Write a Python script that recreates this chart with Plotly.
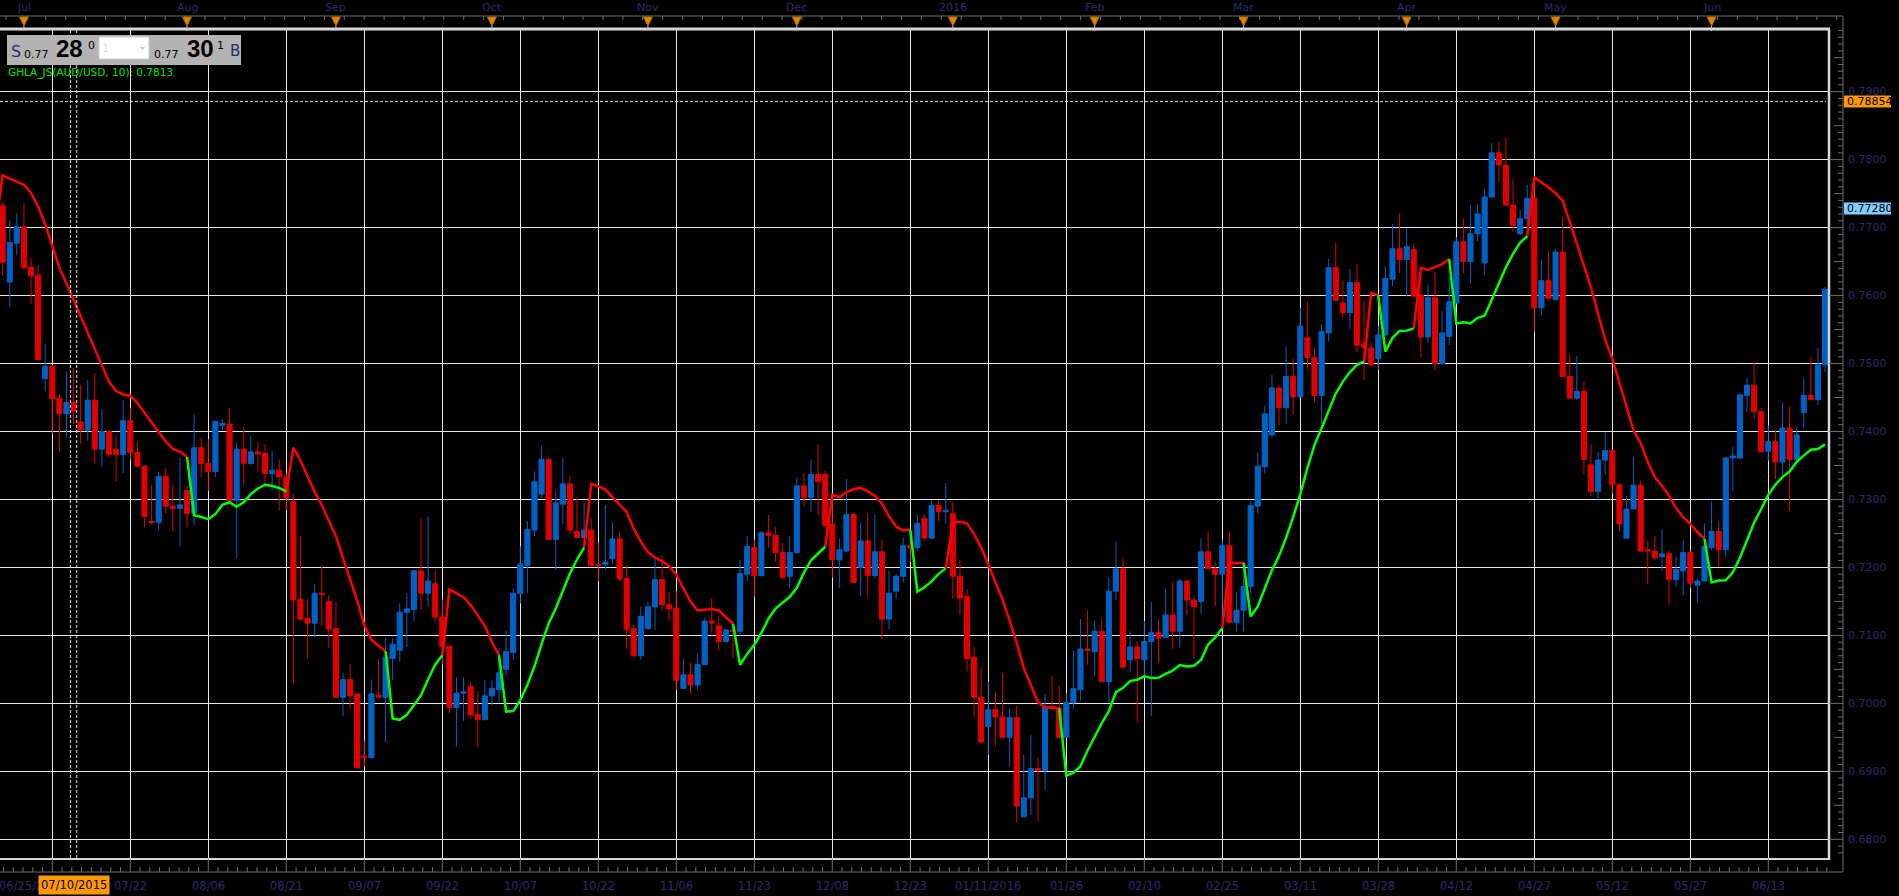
import plotly.graph_objects as go
import numpy as np

# ---------------- data (AUD/USD daily, index 0 = first candle 06/26/2015) ----------------
opens = [0.7732,0.7620,0.7677,0.7701,0.7642,0.7630,0.7478,0.7496,0.7449,0.7426,
         0.7443,0.7414,0.7402,0.7446,0.7374,0.7400,0.7374,0.7366,0.7416,0.7369,
         0.7349,0.7268,0.7266,0.7334,0.7290,0.7287,0.7313,0.7280,0.7376,0.7353,
         0.7341,0.7409,0.7411,0.7298,0.7374,0.7353,0.7370,0.7368,0.7338,0.7343,
         0.7333,0.7297,0.7153,0.7125,0.7118,0.7162,0.7150,0.7110,0.7009,0.7035,
         0.7014,0.6922,0.6920,0.7012,0.7009,0.7066,0.7078,0.7134,0.7138,0.7195,
         0.7162,0.7176,0.7127,0.7084,0.6994,0.7015,0.7025,0.6984,0.6976,0.7011,
         0.7020,0.7050,0.7075,0.7162,0.7203,0.7255,0.7308,0.7359,0.7241,0.7293,
         0.7323,0.7253,0.7244,0.7255,0.7204,0.7204,0.7213,0.7242,0.7184,0.7110,
         0.7070,0.7110,0.7142,0.7182,0.7145,0.7140,0.7022,0.7042,0.7027,0.7057,
         0.7121,0.7114,0.7091,0.7108,0.7106,0.7190,0.7229,0.7188,0.7251,0.7247,
         0.7222,0.7187,0.7222,0.7320,0.7303,0.7337,0.7337,0.7264,0.7211,0.7224,
         0.7278,0.7200,0.7239,0.7188,0.7223,0.7124,0.7165,0.7187,0.7232,0.7229,
         0.7272,0.7243,0.7291,0.7282,0.7279,0.7187,0.7157,0.7068,0.7009,0.6966,
         0.6991,0.6980,0.6950,0.6979,0.6833,0.6861,0.6904,0.6901,0.6995,0.6993,
         0.6950,0.7001,0.7020,0.7080,0.7076,0.7106,0.7032,0.7165,0.7198,0.7064,
         0.7083,0.7064,0.7091,0.7104,0.7097,0.7130,0.7106,0.7180,0.7152,0.7150,
         0.7223,0.7198,0.7190,0.7232,0.7119,0.7137,0.7172,0.7290,0.7348,0.7395,
         0.7464,0.7435,0.7481,0.7451,0.7538,0.7509,0.7453,0.7545,0.7641,0.7589,
         0.7575,0.7619,0.7529,0.7523,0.7507,0.7542,0.7624,0.7669,0.7653,0.7668,
         0.7601,0.7539,0.7597,0.7500,0.7540,0.7589,0.7679,0.7650,0.7691,0.7648,
         0.7745,0.7810,0.7792,0.7733,0.7691,0.7713,0.7743,0.7582,0.7622,0.7594,
         0.7664,0.7481,0.7449,0.7459,0.7351,0.7312,0.7358,0.7372,0.7322,0.7243,
         0.7286,0.7321,0.7226,0.7224,0.7216,0.7220,0.7182,0.7195,0.7222,0.7174,
         0.7180,0.7229,0.7253,0.7226,0.7361,0.7361,0.7453,0.7468,0.7429,0.7371,
         0.7385,0.7355,0.7405,0.7359,0.7428,0.7453,0.7447,0.7498]
highs = [0.7738,0.7711,0.7722,0.7736,0.7655,0.7645,0.7529,0.7498,0.7455,0.7488,
         0.7494,0.7469,0.7476,0.7486,0.7433,0.7402,0.7395,0.7446,0.7435,0.7385,
         0.7350,0.7321,0.7341,0.7347,0.7321,0.7362,0.7320,0.7425,0.7391,0.7389,
         0.7416,0.7418,0.7435,0.7384,0.7407,0.7393,0.7385,0.7382,0.7371,0.7359,
         0.7339,0.7308,0.7246,0.7153,0.7176,0.7201,0.7159,0.7149,0.7045,0.7058,
         0.7015,0.6945,0.7035,0.7066,0.7096,0.7096,0.7147,0.7162,0.7196,0.7272,
         0.7275,0.7195,0.7153,0.7085,0.7038,0.7038,0.7032,0.7018,0.7034,0.7034,
         0.7081,0.7107,0.7170,0.7231,0.7268,0.7341,0.7379,0.7361,0.7313,0.7361,
         0.7334,0.7303,0.7295,0.7272,0.7236,0.7292,0.7266,0.7253,0.7203,0.7116,
         0.7143,0.7150,0.7213,0.7218,0.7163,0.7165,0.7066,0.7060,0.7073,0.7126,
         0.7155,0.7128,0.7109,0.7122,0.7211,0.7246,0.7241,0.7253,0.7277,0.7259,
         0.7236,0.7246,0.7332,0.7339,0.7359,0.7381,0.7342,0.7300,0.7242,0.7330,
         0.7280,0.7266,0.7279,0.7277,0.7241,0.7195,0.7191,0.7244,0.7254,0.7277,
         0.7277,0.7299,0.7299,0.7324,0.7297,0.7211,0.7168,0.7083,0.7053,0.7032,
         0.7016,0.7045,0.6992,0.6997,0.6924,0.6953,0.6920,0.7014,0.7040,0.7026,
         0.7015,0.7078,0.7124,0.7137,0.7122,0.7124,0.7185,0.7238,0.7213,0.7106,
         0.7091,0.7121,0.7149,0.7124,0.7168,0.7178,0.7183,0.7181,0.7157,0.7243,
         0.7254,0.7209,0.7241,0.7253,0.7163,0.7185,0.7297,0.7369,0.7438,0.7483,
         0.7468,0.7525,0.7507,0.7582,0.7591,0.7524,0.7558,0.7654,0.7678,0.7622,
         0.7639,0.7647,0.7592,0.7532,0.7555,0.7643,0.7705,0.7721,0.7699,0.7677,
         0.7636,0.7616,0.7635,0.7577,0.7628,0.7686,0.7713,0.7733,0.7734,0.7757,
         0.7824,0.7826,0.7832,0.7772,0.7726,0.7763,0.7775,0.7653,0.7666,0.7668,
         0.7716,0.7514,0.7511,0.7474,0.7381,0.7370,0.7399,0.7373,0.7323,0.7305,
         0.7363,0.7328,0.7239,0.7246,0.7256,0.7224,0.7216,0.7241,0.7224,0.7184,
         0.7265,0.7297,0.7267,0.7362,0.7378,0.7456,0.7479,0.7501,0.7435,0.7409,
         0.7402,0.7443,0.7437,0.7407,0.7478,0.7510,0.7523,0.7613]
lows = [0.7629,0.7584,0.7659,0.7637,0.7588,0.7504,0.7459,0.7397,0.7370,0.7391,
        0.7411,0.7382,0.7386,0.7353,0.7348,0.7362,0.7326,0.7339,0.7359,0.7347,
        0.7259,0.7264,0.7255,0.7280,0.7253,0.7231,0.7259,0.7262,0.7333,0.7313,
        0.7333,0.7402,0.7293,0.7213,0.7321,0.7350,0.7341,0.7318,0.7313,0.7284,
        0.7284,0.7028,0.7121,0.7066,0.7097,0.7114,0.7081,0.7009,0.6981,0.6991,
        0.6905,0.6907,0.6919,0.7008,0.6943,0.7034,0.7061,0.7083,0.7121,0.7137,
        0.7142,0.7121,0.7057,0.6986,0.6936,0.6974,0.6978,0.6935,0.6975,0.6997,
        0.7001,0.7040,0.7064,0.7147,0.7162,0.7246,0.7303,0.7241,0.7196,0.7264,
        0.7249,0.7244,0.7242,0.7201,0.7180,0.7196,0.7205,0.7180,0.7080,0.7068,
        0.7064,0.7108,0.7108,0.7136,0.7122,0.7020,0.7022,0.7014,0.7020,0.7057,
        0.7103,0.7078,0.7089,0.7066,0.7099,0.7180,0.7157,0.7187,0.7229,0.7208,
        0.7183,0.7170,0.7220,0.7290,0.7282,0.7277,0.7258,0.7185,0.7170,0.7222,
        0.7178,0.7157,0.7157,0.7183,0.7095,0.7109,0.7154,0.7178,0.7208,0.7224,
        0.7243,0.7243,0.7268,0.7264,0.7154,0.7130,0.7047,0.6979,0.6943,0.6924,
        0.6937,0.6950,0.6907,0.6825,0.6833,0.6836,0.6826,0.6872,0.6990,0.6948,
        0.6950,0.6991,0.7004,0.7057,0.7040,0.7032,0.7001,0.7152,0.7053,0.7047,
        0.6971,0.7040,0.6981,0.7060,0.7097,0.7080,0.7082,0.7130,0.7066,0.7132,
        0.7198,0.7143,0.7119,0.7116,0.7106,0.7106,0.7162,0.7279,0.7338,0.7391,
        0.7409,0.7411,0.7425,0.7451,0.7491,0.7443,0.7411,0.7532,0.7593,0.7568,
        0.7550,0.7517,0.7476,0.7497,0.7491,0.7540,0.7614,0.7633,0.7598,0.7599,
        0.7509,0.7530,0.7490,0.7498,0.7527,0.7589,0.7633,0.7618,0.7680,0.7630,
        0.7745,0.7767,0.7731,0.7694,0.7691,0.7684,0.7547,0.7571,0.7593,0.7593,
        0.7481,0.7449,0.7446,0.7337,0.7305,0.7299,0.7336,0.7309,0.7253,0.7243,
        0.7286,0.7222,0.7175,0.7211,0.7195,0.7145,0.7172,0.7159,0.7170,0.7148,
        0.7179,0.7226,0.7201,0.7216,0.7312,0.7360,0.7429,0.7418,0.7370,0.7357,
        0.7330,0.7336,0.7283,0.7357,0.7405,0.7446,0.7439,0.7488]
closes = [0.7649,0.7678,0.7701,0.7641,0.7629,0.7506,0.7496,0.7448,0.7426,0.7443,
          0.7430,0.7402,0.7446,0.7374,0.7400,0.7366,0.7366,0.7416,0.7369,0.7349,
          0.7275,0.7266,0.7334,0.7290,0.7287,0.7292,0.7279,0.7376,0.7353,0.7341,
          0.7415,0.7412,0.7298,0.7374,0.7353,0.7370,0.7367,0.7338,0.7343,0.7333,
          0.7303,0.7152,0.7124,0.7118,0.7162,0.7160,0.7109,0.7009,0.7035,0.7011,
          0.6905,0.6920,0.7014,0.7009,0.7068,0.7087,0.7134,0.7139,0.7195,0.7162,
          0.7180,0.7127,0.7084,0.6994,0.7015,0.7017,0.6983,0.6976,0.7011,0.7022,
          0.7045,0.7076,0.7162,0.7205,0.7256,0.7326,0.7359,0.7241,0.7295,0.7323,
          0.7255,0.7244,0.7255,0.7203,0.7203,0.7208,0.7242,0.7183,0.7109,0.7070,
          0.7128,0.7142,0.7182,0.7145,0.7139,0.7034,0.7042,0.7027,0.7057,0.7121,
          0.7118,0.7091,0.7108,0.7106,0.7191,0.7231,0.7188,0.7251,0.7247,0.7222,
          0.7185,0.7222,0.7320,0.7303,0.7337,0.7326,0.7262,0.7211,0.7226,0.7278,
          0.7178,0.7239,0.7188,0.7223,0.7124,0.7162,0.7187,0.7232,0.7229,0.7265,
          0.7243,0.7291,0.7282,0.7284,0.7187,0.7155,0.7066,0.7009,0.6943,0.6991,
          0.6980,0.6950,0.6979,0.6849,0.6861,0.6904,0.6901,0.6995,0.6993,0.6950,
          0.7001,0.7022,0.7080,0.7078,0.7106,0.7032,0.7165,0.7198,0.7053,0.7083,
          0.7066,0.7091,0.7104,0.7096,0.7130,0.7106,0.7180,0.7152,0.7142,0.7223,
          0.7198,0.7190,0.7232,0.7119,0.7137,0.7172,0.7291,0.7349,0.7426,0.7464,
          0.7435,0.7481,0.7451,0.7555,0.7509,0.7453,0.7547,0.7641,0.7593,0.7575,
          0.7619,0.7527,0.7524,0.7498,0.7542,0.7625,0.7669,0.7653,0.7672,0.7599,
          0.7539,0.7597,0.7500,0.7545,0.7591,0.7679,0.7650,0.7691,0.7720,0.7745,
          0.7810,0.7792,0.7733,0.7703,0.7713,0.7743,0.7582,0.7622,0.7596,0.7664,
          0.7481,0.7449,0.7459,0.7359,0.7312,0.7358,0.7372,0.7322,0.7264,0.7286,
          0.7321,0.7224,0.7224,0.7214,0.7220,0.7182,0.7197,0.7222,0.7177,0.7180,
          0.7231,0.7253,0.7226,0.7361,0.7364,0.7454,0.7468,0.7429,0.7370,0.7385,
          0.7355,0.7405,0.7359,0.7395,0.7453,0.7447,0.7498,0.7609]

# GHLA (period 10) values before a full 10-bar window exists (index -1 .. 8)
ghla_head = [0.7700, 0.7777, 0.7772, 0.7767, 0.7763, 0.7751, 0.7731, 0.7705, 0.7674, 0.7641]
ghla_period = 10
# bars where the activator flips; starts in a down trend
flip_bars = [0, 27, 41, 55, 63, 71, 83, 104, 117, 129, 134, 150, 173, 176, 193, 195, 200, 205, 216, 241]

# axis text
bottom_labels = ["07/22", "08/06", "08/21", "09/07", "09/22", "10/07", "10/22", "11/06", "11/23",
                 "12/08", "12/23", "01/11/2016", "01/26", "02/10", "02/25", "03/11", "03/28",
                 "04/12", "04/27", "05/12", "05/27", "06/13"]
month_labels = ["Jul", "Aug", "Sep", "Oct", "Nov", "Dec", "2016", "Feb", "Mar", "Apr", "May", "Jun"]
month_bars = [3, 26, 47, 69, 91, 112, 134, 154, 175, 198, 219, 241]
price_ticks = [0.68, 0.69, 0.70, 0.71, 0.72, 0.73, 0.74, 0.75, 0.76, 0.77, 0.78, 0.79]
first_label = "06/25/2015"
cursor_label = "07/10/2015"
cursor_bar = 10
level_orange = 0.78854
level_blue = 0.77280
legend_text = "GHLA_JS(AUD/USD, 10): 0.7813"

# ---------------- geometry ----------------
W, H = 1899, 896
PL, PR, PT, PB = 0, 1829, 29, 859          # plot area in pixels
grid_step, grid_first = 11, 7               # vertical grid every 11 bars starting bar 7
X_RANGE = [-0.375, 257.56]
Y_RANGE = [0.67710, 0.79922]

NAVY = "#2b2b6b"
BLUE = "#0062c4"
RED = "#e00000"
FONT = "DejaVu Sans"

def px(xp):
    return (xp - PL) / (PR - PL)

def py(yp):
    return (PB - yp) / (PB - PT)

n = len(closes)
idx = list(range(n))

# ---------------- GHLA line ----------------
h = np.array(highs); l = np.array(lows)
sma_h = np.convolve(h, np.ones(ghla_period) / ghla_period, mode="full")[:n]
sma_l = np.convolve(l, np.ones(ghla_period) / ghla_period, mode="full")[:n]
trend = []
for i in range(n):
    k = max(j for j, b in enumerate(flip_bars) if b <= i)
    trend.append("down" if k % 2 == 0 else "up")
line_val = {}
for i in range(-1, n):
    if i < ghla_period - 1:
        line_val[i] = ghla_head[i + 1]
    else:
        line_val[i] = sma_h[i] if trend[i] == "down" else sma_l[i]

seg = {"down": ([], []), "up": ([], [])}
runs = []
start = 0
for i in range(1, n + 1):
    if i == n or trend[i] != trend[start]:
        runs.append((start, i - 1, trend[start]))
        start = i
for a, b, d in runs:
    xs, ys = seg[d]
    for i in range(a - 1, b + 1):
        xs.append(i); ys.append(line_val[i])
    xs.append(None); ys.append(None)

# ---------------- candles (bodies as bars, wicks as lines) ----------------
o = np.array(opens); c = np.array(closes)
up = c >= o
body_base = np.minimum(o, c)
body_h = np.abs(c - o)
body_col = [BLUE if u else RED for u in up]

wick = {True: ([], []), False: ([], [])}
for i in range(n):
    xs, ys = wick[bool(up[i])]
    xs += [i, i, None]
    ys += [lows[i], highs[i], None]

fig = go.Figure()
fig.add_trace(go.Bar(x=idx, y=body_h, base=body_base, width=0.72,
                     marker=dict(color=body_col, line=dict(color=body_col, width=1)),
                     hoverinfo="skip", showlegend=False))
fig.add_trace(go.Scatter(x=wick[True][0], y=wick[True][1], mode="lines",
                         line=dict(color=BLUE, width=1), hoverinfo="skip", showlegend=False))
fig.add_trace(go.Scatter(x=wick[False][0], y=wick[False][1], mode="lines",
                         line=dict(color=RED, width=1), hoverinfo="skip", showlegend=False))
fig.add_trace(go.Scatter(x=seg["down"][0], y=seg["down"][1], mode="lines",
                         line=dict(color="#ff0000", width=2.5), hoverinfo="skip", showlegend=False))
fig.add_trace(go.Scatter(x=seg["up"][0], y=seg["up"][1], mode="lines",
                         line=dict(color="#00ff00", width=2.5), hoverinfo="skip", showlegend=False))

grid_idx = [grid_first + grid_step * k for k in range(23)]

shapes = []
annotations = []

def line_shape(x0, y0, x1, y1, color, width):
    shapes.append(dict(type="line", x0=x0, y0=y0, x1=x1, y1=y1, xref="paper", yref="paper",
                       line=dict(color=color, width=width), layer="above"))

# frame lines (axes)
AX = "#6e6e6e"
line_shape(px(0), py(16), px(1843), py(16), AX, 1)
line_shape(px(1843), py(16), px(1843), py(872), AX, 1)
line_shape(px(0), py(872), px(1843), py(872), AX, 1)
# plot border
line_shape(px(0), py(29), px(1830), py(29), "#d8d8d8", 3)
line_shape(px(1829), py(29), px(1829), py(860), "#d8d8d8", 2.5)
line_shape(px(0), py(859), px(1830), py(859), "#d8d8d8", 2)

# right axis ticks
for k in range(677, 800):
    v = k / 1000.0
    if v < Y_RANGE[0] or v > Y_RANGE[1]:
        continue
    if k % 10 == 0:
        x0 = 1829
    elif k % 5 == 0:
        x0 = 1834
    else:
        x0 = 1838
    shapes.append(dict(type="line", xref="paper", yref="y", x0=px(x0), x1=px(1843), y0=v, y1=v,
                       line=dict(color=AX, width=1), layer="above"))
# right axis labels
for v in price_ticks:
    annotations.append(dict(xref="paper", yref="y", x=px(1846), y=v, text="%.4f" % v,
                            showarrow=False, xanchor="left", yanchor="middle",
                            font=dict(family=FONT, size=11, color=NAVY)))

# bottom axis ticks
for g in grid_idx:
    shapes.append(dict(type="line", xref="x", yref="paper", x0=g, x1=g, y0=py(859), y1=py(872),
                       line=dict(color=AX, width=1), layer="above"))
for k in range(-1, 24):
    for s in range(1, 8):
        xv = grid_first + grid_step * (k + s / 8.0)
        if X_RANGE[0] < xv < X_RANGE[1]:
            shapes.append(dict(type="line", xref="x", yref="paper", x0=xv, x1=xv, y0=py(867), y1=py(872),
                               line=dict(color=AX, width=1), layer="above"))
# bottom labels
for g, t in zip(grid_idx[1:], bottom_labels):
    annotations.append(dict(xref="x", yref="paper", x=g, y=py(886), text=t, showarrow=False,
                            xanchor="center", yanchor="middle",
                            font=dict(family=FONT, size=11.5, color=NAVY)))
annotations.append(dict(xref="paper", yref="paper", x=px(-3), y=py(886), text=first_label, showarrow=False,
                        xanchor="left", yanchor="middle", font=dict(family=FONT, size=11.5, color=NAVY)))
# cursor date label (drawn on top of the first label, as in the terminal)
annotations.append(dict(xref="x", yref="paper", x=cursor_bar, y=py(885), text=cursor_label, showarrow=False,
                        xanchor="center", yanchor="middle", bgcolor="#ff9900", borderpad=2,
                        font=dict(family=FONT, size=11.5, color="#000000")))

# top axis ticks
xt = 6.0
while xt < 1843:
    shapes.append(dict(type="line", xref="paper", yref="paper", x0=px(xt), x1=px(xt), y0=py(16), y1=py(20),
                       line=dict(color=AX, width=1), layer="above"))
    xt += 19.9
# month markers
for m, t in zip(month_bars, month_labels):
    annotations.append(dict(xref="x", yref="paper", x=m, y=py(8), text=t, showarrow=False,
                            xanchor="center", yanchor="middle", font=dict(family=FONT, size=11, color=NAVY)))
    shapes.append(dict(type="path", xref="x", yref="paper",
                       path="M %f,%f L %f,%f L %f,%f Z" % (m - 0.62, py(17), m + 0.62, py(17), m, py(26)),
                       fillcolor="#e08600", line=dict(color="#b86a00", width=1), layer="above"))
    shapes.append(dict(type="line", xref="x", yref="paper", x0=m, x1=m, y0=py(26), y1=py(31),
                       line=dict(color="#c0c0c0", width=1), layer="above"))

# crosshair
for off in (-0.44, 0.44):
    shapes.append(dict(type="line", xref="x", yref="paper", x0=cursor_bar + off, x1=cursor_bar + off,
                       y0=py(30), y1=py(858), line=dict(color="#e0e0e0", width=1, dash="3px,2px"), layer="above"))
shapes.append(dict(type="line", xref="paper", yref="y", x0=0, x1=px(1826), y0=level_orange, y1=level_orange,
                   line=dict(color="#e0e0e0", width=1, dash="3px,2px"), layer="above"))

# price level labels
def yv(v):
    return PB - (v - Y_RANGE[0]) / (Y_RANGE[1] - Y_RANGE[0]) * (PB - PT)

for v, col in ((level_orange, "#ff9900"), (level_blue, "#80ccff")):
    yc = yv(v)
    shapes.append(dict(type="rect", xref="paper", yref="paper", x0=px(1844), x1=px(1891),
                       y0=py(yc - 6), y1=py(yc + 6), fillcolor=col, line=dict(width=0), layer="above"))
    annotations.append(dict(xref="paper", yref="y", x=px(1845), y=v, text="%.5f" % v, showarrow=False,
                            xanchor="left", yanchor="middle", font=dict(family=FONT, size=11, color="#000000")))

# top-left dealing widget
shapes.append(dict(type="rect", xref="paper", yref="paper", x0=px(7), x1=px(241), y0=py(35), y1=py(65),
                   fillcolor="#b3b3b3", line=dict(width=0), layer="above"))
shapes.append(dict(type="rect", xref="paper", yref="paper", x0=px(99), x1=px(149), y0=py(37), y1=py(59),
                   fillcolor="#ffffff", line=dict(color="#d0d0d0", width=1), layer="above"))
shapes.append(dict(type="path", xref="paper", yref="paper",
                   path="M %f,%f L %f,%f L %f,%f Z" % (px(140), py(47), px(145), py(47), px(142.5), py(50)),
                   fillcolor="#c8c8c8", line=dict(width=0), layer="above"))
BIG = "Liberation Sans, Arial, sans-serif"
widget = [
    ("S", 9, 51, 16, NAVY, FONT),
    ("0.77", 22, 54, 11, "#000000", FONT),
    ("<b>28</b>", 54, 49, 24, "#000000", BIG),
    ("0", 86, 45, 11, "#000000", FONT),
    ("1", 100, 48, 11, "#dddddd", FONT),
    ("0.77", 152, 54, 11, "#000000", FONT),
    ("<b>30</b>", 185, 49, 24, "#000000", BIG),
    ("1", 215, 45, 11, "#000000", FONT),
    ("B", 228, 51, 15, NAVY, FONT),
]
for t, x0, yc, sz, col, fam in widget:
    annotations.append(dict(xref="paper", yref="paper", x=px(x0), y=py(yc), text=t, showarrow=False,
                            xanchor="left", yanchor="middle", font=dict(family=fam, size=sz, color=col)))
annotations.append(dict(xref="paper", yref="paper", x=px(6), y=py(72.5), text=legend_text, showarrow=False,
                        xanchor="left", yanchor="middle", font=dict(family=FONT, size=10.5, color="#00e600")))

fig.update_layout(
    width=W, height=H, autosize=False,
    margin=dict(l=PL, r=W - PR, t=PT, b=H - PB, pad=0),
    paper_bgcolor="#000000", plot_bgcolor="#000000",
    showlegend=False, barmode="overlay",
    shapes=shapes, annotations=annotations,
    xaxis=dict(range=X_RANGE, tickmode="array", tickvals=grid_idx, showticklabels=False, ticks="",
               showgrid=True, gridcolor="#e6e6e6", gridwidth=1, zeroline=False, showline=False,
               fixedrange=True),
    yaxis=dict(range=Y_RANGE, tickmode="array", tickvals=price_ticks, showticklabels=False, ticks="",
               showgrid=True, gridcolor="#e6e6e6", gridwidth=1, zeroline=False, showline=False,
               side="right", fixedrange=True),
)
fig.write_html("out.html", config={"displayModeBar": False})
